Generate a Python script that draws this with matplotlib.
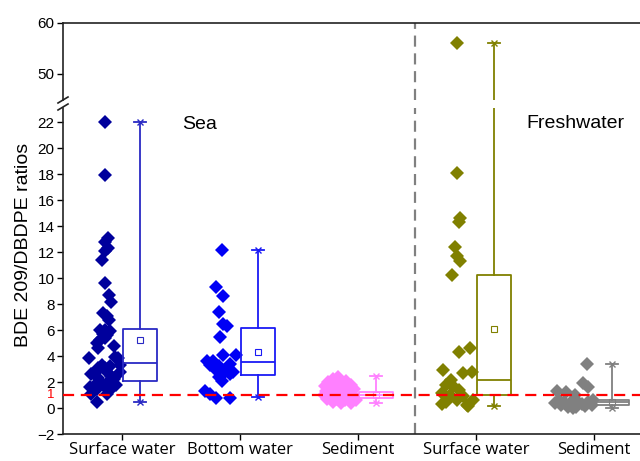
import matplotlib
matplotlib.use("Agg")
import matplotlib.pyplot as plt
from matplotlib.lines import Line2D

# ---------------- data ----------------
categories = ["Surface water", "Bottom water", "Sediment", "Surface water", "Sediment"]

sea_sw = [22.0, 17.95, 13.1, 12.8, 12.3, 12.1, 11.4, 9.66, 8.7, 8.2, 7.3, 7.05, 6.8,
          6.0, 6.0, 5.9, 5.7, 5.6, 5.4, 5.25, 5.0, 4.74, 4.6, 3.85, 3.9, 3.85, 3.3,
          3.1, 3.1, 2.7, 2.6, 3.2, 3.3, 2.8, 2.35, 2.5, 2.2, 2.75, 1.8, 1.8, 1.8,
          1.6, 1.5, 1.1, 1.1, 0.5, 2.0, 1.4]
sea_sw_dx = [-0.14, -0.14, -0.12, -0.14, -0.12, -0.14, -0.17, -0.14, -0.11, -0.09,
             -0.16, -0.13, -0.11, -0.19, -0.14, -0.10, -0.16, -0.13, -0.14, -0.19,
             -0.21, -0.07, -0.20, -0.28, -0.06, -0.03, -0.17, -0.14, -0.20, -0.23,
             -0.26, -0.10, -0.02, -0.13, -0.20, -0.09, -0.07, -0.02, -0.05, -0.23,
             -0.16, -0.27, -0.21, -0.26, -0.13, -0.21, -0.12, -0.10]

sea_bw = [12.2, 9.35, 8.6, 7.4, 6.5, 6.3, 5.5, 4.1, 4.1, 3.6, 3.6, 3.2, 3.4, 2.9,
          3.0, 2.8, 2.6, 2.4, 2.6, 2.1, 1.3, 1.1, 0.8, 0.8, 3.3]
sea_bw_dx = [-0.155, -0.20, -0.14, -0.18, -0.14, -0.11, -0.17, -0.14, -0.03, -0.28,
             -0.23, -0.18, -0.085, -0.20, -0.10, -0.06, -0.14, -0.18, -0.085, -0.155,
             -0.30, -0.25, -0.20, -0.085, -0.25]

sea_sed = [2.4, 2.2, 2.1, 2.0, 1.9, 1.8, 1.7, 1.7, 1.6, 1.5, 1.5, 1.4, 1.3, 1.3, 1.2,
           1.1, 1.0, 1.0, 0.9, 0.9, 0.8, 0.7, 0.7, 0.6, 0.5, 0.4, 0.35, 1.2, 1.8, 0.6]
sea_sed_dx = [-0.17, -0.21, -0.10, -0.25, -0.14, -0.06, -0.28, -0.19, -0.11, -0.23,
              -0.03, -0.15, -0.27, -0.08, -0.19, -0.12, -0.29, -0.04, -0.22, -0.15,
              -0.08, -0.26, -0.18, -0.11, -0.21, -0.14, -0.06, -0.25, -0.22, -0.02]

fw_sw = [56.1, 18.07, 14.6, 14.3, 12.4, 11.7, 11.35, 10.25, 4.35, 4.6, 2.95, 2.7,
         2.8, 2.18, 1.66, 1.4, 1.15, 1.02, 0.9, 0.64, 0.26, 0.5, 0.64, 0.12, 1.8, 0.3]
fw_sw_dx = [-0.16, -0.16, -0.135, -0.14, -0.18, -0.16, -0.135, -0.20, -0.14, -0.05,
            -0.28, -0.11, -0.035, -0.21, -0.195, -0.14, -0.29, -0.22, -0.11, -0.025,
            -0.08, -0.25, -0.165, -0.065, -0.25, -0.29]

fw_sed = [3.38, 1.92, 1.6, 1.28, 1.2, 1.0, 0.6, 0.5, 0.4, 0.55, 0.3, 0.45, 0.2, 0.1,
          0.05, 0.15, 0.0, 0.35, 0.25, 0.6]
fw_sed_dx = [-0.06, -0.09, -0.05, -0.31, -0.24, -0.16, -0.30, -0.25, -0.20, -0.14,
             -0.10, -0.05, -0.28, -0.22, -0.15, -0.08, -0.18, -0.33, -0.02, -0.01]

# box statistics: q1, median, q3, mean, lower whisker, upper whisker
box_q1 = [2.05, 2.56, 0.80, 1.02, 0.25]
box_med = [3.46, 3.54, 1.00, 2.18, 0.45]
box_q3 = [6.08, 6.15, 1.23, 10.25, 0.64]
box_mean = [5.25, 4.28, 1.00, 6.08, 0.50]
box_lo = [0.50, 0.82, 0.38, 0.12, 0.00]
box_hi = [22.0, 12.18, 2.50, 56.1, 3.38]

threshold = 1.0
region_labels = ["Sea", "Freshwater"]

# ---------------- styles ----------------
point_colors = ["#00009C", "#0000F5", "#FF80FF", "#808000", "#808080"]
box_colors = ["#2A2AC4", "#1A1AF5", "#FF80FF", "#808000", "#808080"]
groups = [(sea_sw, sea_sw_dx), (sea_bw, sea_bw_dx), (sea_sed, sea_sed_dx),
          (fw_sw, fw_sw_dx), (fw_sed, fw_sed_dx)]
positions = [1, 2, 3, 4, 5]
box_off = 0.15
box_w = 0.29
sep_x = 3.48

plt.rcParams['font.family'] = ['Liberation Sans', 'DejaVu Sans']

fig = plt.figure(figsize=(6.4, 4.61), dpi=100)
left = 63 / 640
ax_top = fig.add_axes([left, 1 - 100 / 461, 1 - left, 77 / 461])
ax_bot = fig.add_axes([left, 1 - 434 / 461, 1 - left, 326 / 461])

for ax in (ax_top, ax_bot):
    for i, (vals, dx) in enumerate(groups):
        xs = [positions[i] + d for d in dx]
        ax.plot(xs, vals, linestyle='none', marker='D', markersize=7.2,
                color=point_colors[i], markeredgewidth=0, zorder=3, clip_on=True)
    stats = []
    for i in range(5):
        stats.append(dict(med=box_med[i], q1=box_q1[i], q3=box_q3[i],
                          whislo=box_lo[i], whishi=box_hi[i], mean=box_mean[i],
                          fliers=[]))
    for i in range(5):
        c = box_colors[i]
        p = positions[i] + box_off
        ax.bxp([stats[i]], positions=[p], widths=[box_w], showmeans=True,
               showfliers=False, manage_ticks=False, capwidths=[0.1],
               boxprops=dict(color=c, linewidth=1.3),
               whiskerprops=dict(color=c, linewidth=1.3),
               capprops=dict(color=c, linewidth=1.3),
               medianprops=dict(color=c, linewidth=1.3),
               meanprops=dict(marker='s', markersize=4, markerfacecolor='none',
                              markeredgecolor=c, markeredgewidth=0.8),
               zorder=4)
        ax.plot([p, p], [box_lo[i], box_hi[i]], linestyle='none', marker='x',
                markersize=5, color=c, markeredgewidth=1.0, zorder=4)
    ax.axvline(sep_x, color='#808080', linestyle=(0, (5, 3)), linewidth=1.6, zorder=2)
    ax.set_xlim(0.5, 5.39)
    ax.spines['right'].set_visible(False)
    for s in ax.spines.values():
        s.set_linewidth(1.2)
        s.set_color('#222222')

ax_bot.axhline(threshold, color='#FF0000', linestyle=(0, (5, 3)), linewidth=1.6, zorder=5)

ax_top.set_ylim(44.9, 60)
ax_bot.set_ylim(-2, 23.1)
ax_top.set_yticks([50, 60])
ax_bot.set_yticks(list(range(-2, 23, 2)))
ax_top.spines['bottom'].set_visible(False)
ax_bot.spines['top'].set_visible(False)
ax_top.set_xticks([])
ax_bot.set_xticks(positions)
ax_bot.set_xticklabels(categories, fontfamily='Open Sans', fontsize=12)
for ax in (ax_top, ax_bot):
    ax.tick_params(axis='y', direction='out', length=4, width=1.0, labelsize=11, pad=2)
ax_bot.tick_params(axis='x', direction='out', length=4, width=1.0, pad=2)

# red "1" label
ax_bot.text(-0.014, threshold, "1", transform=ax_bot.get_yaxis_transform(),
            ha='right', va='center', color='#FF0000', fontsize=9.5)

# break marks on the left spine
for yb in (100, 107):
    fig.add_artist(Line2D([left - 5 / 640, left + 5 / 640],
                          [1 - (yb + 3) / 461, 1 - (yb - 3) / 461],
                          color='#222222', linewidth=1.2))

ax_bot.text(1.66, 21.8, region_labels[0], fontsize=14, ha='center', va='center')
ax_bot.text(4.84, 21.9, region_labels[1], fontsize=14, ha='center', va='center')

fig.text(24 / 640, 1 - 245 / 461, "BDE 209/DBDPE ratios", rotation=90,
         ha='center', va='center', fontsize=14)

fig.savefig("out.png", dpi=100)
